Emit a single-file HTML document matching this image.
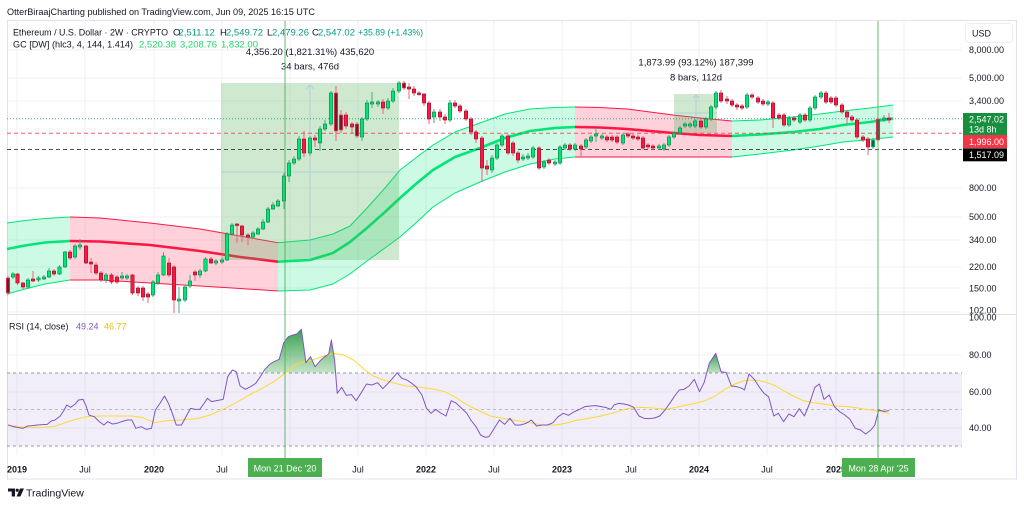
<!DOCTYPE html>
<html><head><meta charset="utf-8"><style>
html,body{margin:0;padding:0;background:#fff;}
svg{display:block;font-family:"Liberation Sans",Arial,sans-serif;}
.g{fill:#00e676;stroke:#1e7a4a;stroke-width:.6}
.r{fill:#ff1744;stroke:#8b1a2c;stroke-width:.6}
.d{fill:#6d1a2b;stroke:#ff4060;stroke-width:.7}
.dg{fill:#1b5e3a;stroke:#00e676;stroke-width:.7}
.pl{font-size:9px;fill:#131722}
.tl{font-size:9px;fill:#131722;text-anchor:middle}
.tb{font-size:9px;fill:#131722;text-anchor:middle;font-weight:bold}
</style></head><body>
<svg width="1024" height="506" viewBox="0 0 1024 506" xmlns="http://www.w3.org/2000/svg">
<defs>
<linearGradient id="ob" x1="0" y1="0" x2="0" y2="1"><stop offset="0" stop-color="#2e9a4a" stop-opacity=".95"/><stop offset="1" stop-color="#4caf50" stop-opacity=".02"/></linearGradient>
<clipPath id="cl70" clipPathUnits="userSpaceOnUse"><rect x="0" y="0" width="2000" height="188"/></clipPath>
</defs>
<rect width="1024" height="506" fill="#fff"/>
<!-- header -->
<text x="7" y="15.2" font-size="9.5" fill="#131722" textLength="308" lengthAdjust="spacingAndGlyphs">OtterBiraajCharting published on TradingView.com, Jun 09, 2025 16:15 UTC</text>
<!-- frame -->
<rect x="7.5" y="20.5" width="1009" height="458.5" fill="none" stroke="#e0e3eb"/>
<!-- grid -->
<g stroke="#f0f2f7" stroke-width="1">
<path d="M17 21V455M85 21V455M154 21V455M222 21V455M290 21V455M358 21V455M426 21V455M494 21V455M562 21V455M631 21V455M699 21V455M767 21V455M836 21V455M904 21V455"/>
<path d="M8 50H962M8 78H962M8 101H962M8 188H962M8 217H962M8 240H962M8 267H962M8 288H962M8 312H962M8 355H962M8 392H962M8 428H962"/>
</g>
<line x1="7" y1="314.5" x2="1017" y2="314.5" stroke="#e0e3eb"/>
<!-- Gaussian channel fills -->
<polygon fill="#00e676" fill-opacity=".2" points="7,223 25,220.5 45,218.5 70,217 70,280 45,284 25,289 7,294"/>
<polygon fill="#ff1744" fill-opacity=".2" points="70,217 100,218 150,223 200,229 240,236 278,242.7 278,291 240,288.5 200,286 150,283 100,280 70,280"/>
<polygon fill="#00e676" fill-opacity=".2" points="278,242.7 310,240 333,234 350,226 367,208 385,188 400,170 417,157 433,145 455,132 480,123 505,114 530,109 555,107.5 575,107 575,157 555,159 530,164 505,172 480,182 455,193 433,207 417,222 400,237 385,248 367,261 350,274 333,284 310,290 278,291"/>
<polygon fill="#ff1744" fill-opacity=".2" points="575,107 600,107.5 627,109 650,112 673,115 700,118 732,121 732,157 575,157"/>
<polygon fill="#00e676" fill-opacity=".2" points="732,121 760,120 793,117 820,114 843,111 870,108 893,105 893,137 870,139.5 843,142 820,146 793,150 760,154 732,157"/>
<!-- channel lines -->
<g fill="none" stroke-linejoin="round">
<polyline stroke="#00e676" stroke-width="1" points="7,223 25,220.5 45,218.5 70,217"/>
<polyline stroke="#00e676" stroke-width="1" points="7,294 25,289 45,284 70,280"/>
<polyline stroke="#00e676" stroke-width="2.6" points="7,249 25,245.5 45,242.5 70,241"/>
<polyline stroke="#ff1744" stroke-width="1" points="70,217 100,218 150,223 200,229 240,236 278,242.7"/>
<polyline stroke="#ff1744" stroke-width="1" points="70,280 100,280 150,283 200,286 240,288.5 278,291"/>
<polyline stroke="#ff1744" stroke-width="2.6" points="70,241 100,241.5 150,245 200,251 240,257 278,261.7"/>
<polyline stroke="#00e676" stroke-width="1" points="278,242.7 310,240 333,234 350,226 367,208 385,188 400,170 417,157 433,145 455,132 480,123 505,114 530,109 555,107.5 575,107"/>
<polyline stroke="#00e676" stroke-width="1" points="278,291 310,290 333,284 350,274 367,261 385,248 400,237 417,222 433,207 455,193 480,182 505,172 530,164 555,159 575,157"/>
<polyline stroke="#00e676" stroke-width="2.6" points="278,261.7 310,260 333,253 350,242 367,228 385,212 400,198 417,183 433,170 455,157 480,148 505,138 530,131 555,128 575,127"/>
<polyline stroke="#ff1744" stroke-width="1" points="575,107 600,107.5 627,109 650,112 673,115 700,118 732,121"/>
<polyline stroke="#ff1744" stroke-width="1" points="575,157 732,157"/>
<polyline stroke="#ff1744" stroke-width="2.6" points="575,127 600,127.5 627,129 650,131 673,133 700,135 732,136"/>
<polyline stroke="#00e676" stroke-width="1" points="732,121 760,120 793,117 820,114 843,111 870,108 893,105"/>
<polyline stroke="#00e676" stroke-width="1" points="732,157 760,154 793,150 820,146 843,142 870,139.5 893,137"/>
<polyline stroke="#00e676" stroke-width="2.6" points="732,136 760,134.5 793,132 820,129 843,125 870,122 893,118.5"/>
</g>
<!-- measurement boxes -->
<rect x="221" y="83" width="178" height="177" fill="#4caf50" fill-opacity=".27"/>
<rect x="674" y="94" width="43" height="39" fill="#4caf50" fill-opacity=".27"/>
<g stroke="#90b4e8" stroke-opacity=".5" fill="none" stroke-width="1">
<path d="M310 85V260M221 172H399M306 89L310 85L314 89"/>
<path d="M696 95V133M674 113H717M693 98L696 95L699 98"/>
</g>
<text x="310" y="54.8" font-size="9.5" fill="#131722" text-anchor="middle">4,356.20 (1,821.31%) 435,620</text>
<text x="310" y="69.3" font-size="9.5" fill="#131722" text-anchor="middle">34 bars, 476d</text>
<text x="696" y="65.3" font-size="9.5" fill="#131722" text-anchor="middle">1,873.99 (93.12%) 187,399</text>
<text x="696" y="80.3" font-size="9.5" fill="#131722" text-anchor="middle">8 bars, 112d</text>
<!-- price lines -->
<line x1="7" y1="118.8" x2="962" y2="118.8" stroke="#089981" stroke-width="1" stroke-dasharray="1 2" opacity=".8"/>
<line x1="7" y1="133.3" x2="962" y2="133.3" stroke="#f23645" stroke-width="1" stroke-dasharray="4 3" opacity=".8"/>
<line x1="7" y1="149.5" x2="962" y2="149.5" stroke="#333" stroke-width="1" stroke-dasharray="4 3" opacity=".85"/>
<!-- wicks -->
<path fill="none" stroke="#3fae86" stroke-width="1" d="M13 272V279M28 278V289M38.5 276V282M44 275V280M49 268V278M59.5 265V275M65 251V268M75 244V259M80 239V250M106 273V283M122 272V280M127 274V280M153 280V297M158 272V285M163.5 252V276M179 287V313M185 285V302M190 275V288M200 269V278M205.5 257V272M216 259V265M222 258V264M227 232V261M232 223V236M253 231V239M258 227V235M263 219V230M268 207V223M273 202V210M278 199V207M284 173V209M289 160V182M294 156V165M299 136V161M310 136V156M320 126V151M325 120V131M331 91V126M362 117V141M367 100V121M372 92V108M378 100V107M388 98V110M393 88V103M399 81V93M434 109V123M450 100V122M492 155V173M497 143V160M502 134V147M523 154V161M528 153V160M533 146V159M544 160V169M555 160V166M560 145V165M565 143V150M575 143V151M586 138V149M591 135V143M596 129V142M602 134V140M623 133V145M659 144V150M664 143V151M669 135V147M674 131V139M680 126V135M685 122V128M690 122V128M695 119V128M706 117V129M711 105V121M716 91V109M747 93V109M768 100V106M789 116V127M800 113V124M810 106V122M815 95V110M821 91V99M873 138V149M884 115V122"/>
<path fill="none" stroke="#f2607a" stroke-width="1" d="M8 276V295M17.5 273V285M23 282V289M33 271V282M54 269V276M70 250V260M86 245V264M91 258V273M96 262V275M101 271V282M111.5 273V284M117 275V284M132.5 274V295M138 286V296M143 286V301M148 292V303M169 258V277M174 265V313M195 270V281M211 257V264M237 223V243M242 225V242M248 233V245M304 131V157M315 135V147M336 86V141M341 110V133M346 112V129M352 122V134M357 122V138M383 99V114M404 81V90M409 83V99M414 86V96M419 91V96M424 93V106M429 101V124M440 109V121M445 114V124M455 100V108M460 104V113M466 109V121M471 117V135M476 130V143M482 136V182M487 160V175M508 134V155M513 141V156M518 151V163M539 146V170M549 158V165M570 143V151M581 144V157M607 135V142M612 135V142M617 135V144M628 132V138M633 134V140M638 135V141M643 136V150M648 143V149M653 144V150M701 119V129M721 90V103M727 96V104M732 99V107M737 103V110M742 104V110M752 93V99M758 96V104M763 99V106M773 101V128M779 113V120M784 113V127M794 116V122M805 113V122M826 91V104M831 96V104M836 96V107M842 103V114M847 110V124M852 115V122M857 118V139M863 135V142M868 137V155M878 117V142M889 113V123"/>
<!-- green bodies -->
<g class="g">
<rect x="11.3" y="274" width="3.4" height="3"/><rect x="26.3" y="280" width="3.4" height="7"/><rect x="36.8" y="278" width="3.4" height="2"/><rect x="42.3" y="277" width="3.4" height="2"/><rect x="47.3" y="271" width="3.4" height="6"/><rect x="57.8" y="267" width="3.4" height="7"/><rect x="63.3" y="252" width="3.4" height="15"/><rect x="73.3" y="246" width="3.4" height="11"/><rect x="78.3" y="245" width="3.4" height="2"/><rect x="104.3" y="275" width="3.4" height="5"/><rect x="120.3" y="276" width="3.4" height="2"/><rect x="125.3" y="276" width="3.4" height="2"/><rect x="151.3" y="282" width="3.4" height="13"/><rect x="156.3" y="275" width="3.4" height="8"/><rect x="161.8" y="256" width="3.4" height="19"/><rect x="177.3" y="299" width="3.4" height="2"/><rect x="183.3" y="287" width="3.4" height="13"/><rect x="188.3" y="281" width="3.4" height="5"/><rect x="198.3" y="271" width="3.4" height="4"/><rect x="203.8" y="259" width="3.4" height="12"/><rect x="214.3" y="261" width="3.4" height="2"/><rect x="220.3" y="260" width="3.4" height="2"/><rect x="225.3" y="234" width="3.4" height="26"/><rect x="230.3" y="225" width="3.4" height="9"/><rect x="251.3" y="233" width="3.4" height="4"/><rect x="256.3" y="229" width="3.4" height="5"/><rect x="261.3" y="222" width="3.4" height="7"/><rect x="266.3" y="209" width="3.4" height="13"/><rect x="271.3" y="205" width="3.4" height="4"/><rect x="276.3" y="201" width="3.4" height="5"/><rect x="282.3" y="176" width="3.4" height="25"/><rect x="287.3" y="163" width="3.4" height="13"/><rect x="292.3" y="159" width="3.4" height="4"/><rect x="297.3" y="139" width="3.4" height="20"/><rect x="308.3" y="138" width="3.4" height="15"/><rect x="318.3" y="129" width="3.4" height="14"/><rect x="323.3" y="124" width="3.4" height="5"/><rect x="329.3" y="93" width="3.4" height="31"/><rect x="360.3" y="119" width="3.4" height="18"/><rect x="365.3" y="103" width="3.4" height="16"/><rect x="370.3" y="102" width="3.4" height="2"/><rect x="376.3" y="102" width="3.4" height="2"/><rect x="386.3" y="101" width="3.4" height="7"/><rect x="391.3" y="91" width="3.4" height="10"/><rect x="397.3" y="83" width="3.4" height="8"/><rect x="432.3" y="112" width="3.4" height="5"/><rect x="448.3" y="103" width="3.4" height="17"/><rect x="490.3" y="158" width="3.4" height="12"/><rect x="495.3" y="145" width="3.4" height="13"/><rect x="500.3" y="136" width="3.4" height="9"/><rect x="521.3" y="157" width="3.4" height="2"/><rect x="526.3" y="156" width="3.4" height="2"/><rect x="531.3" y="148" width="3.4" height="9"/><rect x="542.3" y="162" width="3.4" height="5"/><rect x="553.3" y="162" width="3.4" height="2"/><rect x="558.3" y="147" width="3.4" height="16"/><rect x="563.3" y="145" width="3.4" height="3"/><rect x="573.3" y="145" width="3.4" height="4"/><rect x="584.3" y="140" width="3.4" height="7"/><rect x="589.3" y="137" width="3.4" height="4"/><rect x="594.3" y="134" width="3.4" height="2"/><rect x="600.3" y="136" width="3.4" height="2"/><rect x="621.3" y="135" width="3.4" height="8"/><rect x="657.3" y="146" width="3.4" height="2"/><rect x="662.3" y="145" width="3.4" height="4"/><rect x="667.3" y="137" width="3.4" height="8"/><rect x="672.3" y="133" width="3.4" height="4"/><rect x="678.3" y="128" width="3.4" height="5"/><rect x="683.3" y="124" width="3.4" height="2"/><rect x="688.3" y="124" width="3.4" height="2"/><rect x="693.3" y="121" width="3.4" height="5"/><rect x="704.3" y="119" width="3.4" height="8"/><rect x="709.3" y="107" width="3.4" height="12"/><rect x="714.3" y="93" width="3.4" height="14"/><rect x="745.3" y="95" width="3.4" height="12"/><rect x="766.3" y="102" width="3.4" height="2"/><rect x="787.3" y="118" width="3.4" height="7"/><rect x="798.3" y="115" width="3.4" height="7"/><rect x="808.3" y="108" width="3.4" height="12"/><rect x="813.3" y="97" width="3.4" height="11"/><rect x="819.3" y="93" width="3.4" height="4"/><rect x="882.3" y="118" width="3.4" height="2"/>
</g>
<rect class="dg" x="871.3" y="140" width="3.4" height="7"/>
<!-- red bodies -->
<g class="r">
<rect x="15.8" y="274" width="3.4" height="9"/><rect x="21.3" y="283" width="3.4" height="4"/><rect x="31.3" y="279" width="3.4" height="2"/><rect x="52.3" y="271" width="3.4" height="3"/><rect x="68.3" y="252" width="3.4" height="6"/><rect x="84.3" y="246" width="3.4" height="17"/><rect x="89.3" y="262" width="3.4" height="2"/><rect x="94.3" y="265" width="3.4" height="8"/><rect x="99.3" y="273" width="3.4" height="7"/><rect x="109.8" y="275" width="3.4" height="7"/><rect x="115.3" y="277" width="3.4" height="5"/><rect x="130.8" y="275" width="3.4" height="18"/><rect x="136.3" y="288" width="3.4" height="5"/><rect x="141.3" y="288" width="3.4" height="9"/><rect x="146.3" y="294" width="3.4" height="3"/><rect x="167.3" y="263" width="3.4" height="12"/><rect x="172.3" y="267" width="3.4" height="33"/><rect x="193.3" y="272" width="3.4" height="3"/><rect x="209.3" y="259" width="3.4" height="4"/><rect x="235.3" y="224" width="3.4" height="1.5"/><rect x="240.3" y="226" width="3.4" height="9"/><rect x="246.3" y="235" width="3.4" height="2"/><rect x="302.3" y="139" width="3.4" height="14"/><rect x="313.3" y="138" width="3.4" height="2"/><rect x="344.3" y="115" width="3.4" height="11"/><rect x="350.3" y="124" width="3.4" height="3"/><rect x="381.3" y="102" width="3.4" height="6"/><rect x="407.3" y="87" width="3.4" height="2"/><rect x="412.3" y="89" width="3.4" height="4"/><rect x="417.3" y="93" width="3.4" height="1.5"/><rect x="422.3" y="94" width="3.4" height="9"/><rect x="427.3" y="103" width="3.4" height="16"/><rect x="438.3" y="112" width="3.4" height="5"/><rect x="443.3" y="117" width="3.4" height="3"/><rect x="453.3" y="103" width="3.4" height="3"/><rect x="458.3" y="106" width="3.4" height="5"/><rect x="464.3" y="111" width="3.4" height="8"/><rect x="469.3" y="119" width="3.4" height="13"/><rect x="474.3" y="132" width="3.4" height="7"/><rect x="480.3" y="138" width="3.4" height="30"/><rect x="485.3" y="166" width="3.4" height="3"/><rect x="506.3" y="136" width="3.4" height="17"/><rect x="511.3" y="143" width="3.4" height="10"/><rect x="516.3" y="153" width="3.4" height="7"/><rect x="537.3" y="148" width="3.4" height="20"/><rect x="547.3" y="160" width="3.4" height="3"/><rect x="568.3" y="145" width="3.4" height="4"/><rect x="579.3" y="146" width="3.4" height="3"/><rect x="605.3" y="137" width="3.4" height="3"/><rect x="610.3" y="137" width="3.4" height="3"/><rect x="615.3" y="137" width="3.4" height="5"/><rect x="626.3" y="134" width="3.4" height="2"/><rect x="631.3" y="136" width="3.4" height="2"/><rect x="636.3" y="137" width="3.4" height="2"/><rect x="641.3" y="138" width="3.4" height="10"/><rect x="646.3" y="145" width="3.4" height="2"/><rect x="651.3" y="146" width="3.4" height="2"/><rect x="699.3" y="121" width="3.4" height="6"/><rect x="719.3" y="93" width="3.4" height="8"/><rect x="725.3" y="99" width="3.4" height="2"/><rect x="730.3" y="101" width="3.4" height="4"/><rect x="735.3" y="105" width="3.4" height="2"/><rect x="740.3" y="106" width="3.4" height="2"/><rect x="750.3" y="95" width="3.4" height="2"/><rect x="756.3" y="98" width="3.4" height="4"/><rect x="761.3" y="101" width="3.4" height="3"/><rect x="771.3" y="103" width="3.4" height="15"/><rect x="777.3" y="115" width="3.4" height="3"/><rect x="782.3" y="115" width="3.4" height="10"/><rect x="792.3" y="118" width="3.4" height="2"/><rect x="803.3" y="115" width="3.4" height="5"/><rect x="824.3" y="93" width="3.4" height="9"/><rect x="829.3" y="98" width="3.4" height="4"/><rect x="834.3" y="98" width="3.4" height="7"/><rect x="840.3" y="105" width="3.4" height="7"/><rect x="845.3" y="112" width="3.4" height="5"/><rect x="850.3" y="117" width="3.4" height="3"/><rect x="855.3" y="120" width="3.4" height="17"/><rect x="861.3" y="137" width="3.4" height="3"/><rect x="866.3" y="139" width="3.4" height="8"/><rect x="887.3" y="118" width="3.4" height="2"/>
</g>
<g class="d">
<rect x="6.3" y="278" width="3.4" height="15"/><rect x="334.3" y="93" width="3.4" height="38"/><rect x="339.3" y="115" width="3.4" height="15"/><rect x="355.3" y="124" width="3.4" height="12"/><rect x="402.3" y="83" width="3.4" height="5"/><rect x="876.3" y="119" width="3.4" height="21"/>
</g>
<!-- header lines 2,3 -->
<g font-size="9.5">
<text x="13" y="35.3" fill="#131722" textLength="155" lengthAdjust="spacingAndGlyphs">Ethereum / U.S. Dollar · 2W · CRYPTO</text>
<text y="35.3" fill="#131722"><tspan x="173">O</tspan><tspan x="220">H</tspan><tspan x="267">L</tspan><tspan x="312">C</tspan></text>
<text y="35.3" fill="#089981"><tspan x="178.5">2,511.12</tspan><tspan x="226">2,549.72</tspan><tspan x="272">2,479.26</tspan><tspan x="318">2,547.02</tspan></text>
<text x="358" y="35.3" fill="#089981" textLength="65" lengthAdjust="spacingAndGlyphs">+35.89 (+1.43%)</text>
<text x="13" y="47.3" fill="#131722" textLength="120" lengthAdjust="spacingAndGlyphs">GC [DW] (hlc3, 4, 144, 1.414)</text>
<text y="47.3" fill="#22d36b"><tspan x="139">2,520.38</tspan><tspan x="180">3,208.76</tspan><tspan x="221">1,832.00</tspan></text>
</g>
<!-- RSI pane -->
<rect x="7" y="373" width="955" height="73" fill="#7e57c2" fill-opacity=".1"/>
<g stroke="#9598a1" stroke-width="1" stroke-dasharray="3 3">
<line x1="7" y1="373" x2="962" y2="373"/>
<line x1="7" y1="409.5" x2="962" y2="409.5" stroke-opacity=".6"/>
<line x1="7" y1="446" x2="962" y2="446"/>
</g>
<g transform="translate(1.6,310) scale(0.65164,0.33333)">
<polygon clip-path="url(#cl70)" fill="url(#ob)" points="404,188 404,178 412,162 418,155 426,148 433,98 440,80 447,75 453,72 460,58 467,158 474,140 481,170 489,152 496,140 502,132 506,90 511,150 515,250 515,188"/>
<polygon clip-path="url(#cl70)" fill="url(#ob)" points="1078,188 1078,218 1086,160 1096,130 1104,185 1112,188"/>
<polyline fill="none" stroke="#fdd835" stroke-width="1" vector-effect="non-scaling-stroke" points="10,345 25,350 40,353 60,352 80,350 95,340 110,330 130,320 150,318 170,318 200,318 215,322 235,338 255,332 275,330 300,326 320,315 340,298 360,278 380,255 400,235 420,212 435,190 450,165 465,155 480,148 495,138 510,130 525,135 540,150 555,175 570,198 585,210 600,218 620,228 645,232 665,238 680,245 695,260 710,280 730,300 750,318 770,325 800,335 830,345 850,345 865,340 880,332 900,325 920,318 940,308 960,296 980,292 1000,294 1020,298 1040,290 1060,282 1080,272 1095,258 1110,238 1125,222 1140,212 1155,210 1170,215 1185,225 1200,242 1215,258 1230,272 1245,278 1260,282 1280,288 1300,290 1320,296 1340,302 1355,306 1362,312"/>
<polyline fill="none" stroke="#7e57c2" stroke-width="1" vector-effect="non-scaling-stroke" stroke-linejoin="round" points="10,345 18,350 26,353 33,355 40,348 48,347 55,345 63,344 70,343 76,333 82,330 90,318 96,300 100,285 106,292 113,282 118,270 125,268 130,290 134,315 142,320 150,335 157,345 163,335 170,342 177,340 184,335 193,330 200,330 206,355 214,350 222,358 230,355 236,300 243,280 250,258 256,280 262,310 268,345 276,345 283,320 290,295 297,298 304,298 310,282 316,265 322,275 330,272 340,268 347,200 354,180 360,185 366,228 374,238 382,230 390,220 397,200 404,178 412,162 418,155 426,148 433,98 440,80 447,75 453,72 460,58 467,158 474,140 481,170 489,152 496,140 502,132 506,90 511,150 515,250 522,232 529,256 537,254 544,272 552,248 560,222 568,225 577,218 585,236 594,218 600,205 607,188 614,205 622,210 628,218 636,230 645,255 652,295 659,310 666,298 673,308 682,318 690,272 698,280 706,295 714,310 720,330 728,350 735,375 742,382 748,380 756,355 764,330 772,343 780,325 788,345 796,345 805,340 813,330 821,348 829,345 838,345 846,338 854,320 862,310 870,316 878,306 887,298 895,290 904,288 912,287 920,290 928,293 935,298 940,285 947,280 955,282 962,285 970,292 978,318 986,325 994,326 1002,324 1010,318 1018,300 1026,278 1034,255 1040,240 1047,238 1055,228 1063,208 1071,245 1078,218 1086,160 1096,130 1104,185 1112,188 1120,228 1128,230 1136,235 1140,240 1147,192 1155,208 1163,232 1170,250 1177,260 1185,318 1192,310 1200,335 1208,312 1216,320 1224,296 1232,318 1240,280 1248,232 1255,222 1262,268 1270,255 1278,290 1286,305 1294,315 1302,328 1310,355 1318,360 1326,372 1334,360 1340,345 1346,300 1354,304 1362,302"/>
</g>
<text y="329.3" font-size="9"><tspan x="9" fill="#131722">RSI (14, close)</tspan><tspan x="76" fill="#7e57c2">49.24</tspan><tspan x="104" fill="#f2c200">46.77</tspan></text>
<!-- vertical marker lines -->
<line x1="285" y1="21" x2="285" y2="458" stroke="#4caf50" stroke-width="1" opacity=".85"/>
<line x1="878" y1="21" x2="878" y2="458" stroke="#4caf50" stroke-width="1" opacity=".85"/>
<!-- price axis -->
<rect x="965.5" y="23.5" width="47" height="19" rx="3" fill="#fff" stroke="#eceef2"/>
<text x="972" y="36.5" class="pl">USD</text>
<g class="pl">
<text x="969" y="53.2">8,000.00</text>
<text x="969" y="81.2">5,000.00</text>
<text x="969" y="104.2">3,400.00</text>
<text x="969" y="191.2">800.00</text>
<text x="969" y="219.9">500.00</text>
<text x="969" y="243.2">340.00</text>
<text x="969" y="269.9">220.00</text>
<text x="969" y="291.5">150.00</text>
<text x="969" y="313.5">102.00</text>
<text x="969" y="320.5">100.00</text>
<text x="969" y="358.2">80.00</text>
<text x="969" y="394.9">60.00</text>
<text x="969" y="431.2">40.00</text>
</g>
<rect x="963" y="113" width="44" height="22" fill="#178f3e"/>
<text x="969" y="122.5" font-size="9" fill="#fff">2,547.02</text>
<text x="969" y="132.3" font-size="9" fill="#fff">13d 8h</text>
<rect x="963" y="135" width="44" height="13" fill="#f23645"/>
<text x="969" y="144.8" font-size="9" fill="#fff">1,996.00</text>
<rect x="963" y="148.3" width="44" height="13" fill="#000"/>
<text x="969" y="158" font-size="9" fill="#fff">1,517.09</text>
<!-- time axis -->
<text x="17" y="472.3" class="tb">2019</text>
<text x="85" y="472.3" class="tl">Jul</text>
<text x="154" y="472.3" class="tb">2020</text>
<text x="222" y="472.3" class="tl">Jul</text>
<text x="358" y="472.3" class="tl">Jul</text>
<text x="426" y="472.3" class="tb">2022</text>
<text x="494" y="472.3" class="tl">Jul</text>
<text x="562" y="472.3" class="tb">2023</text>
<text x="631" y="472.3" class="tl">Jul</text>
<text x="699" y="472.3" class="tb">2024</text>
<text x="767" y="472.3" class="tl">Jul</text>
<text x="836" y="472.3" class="tb">2025</text>
<rect x="248" y="458" width="74" height="19" fill="#4caf50"/>
<text x="285" y="471.3" font-size="9" fill="#fff" text-anchor="middle">Mon 21 Dec '20</text>
<rect x="842" y="458" width="73" height="19" fill="#4caf50"/>
<text x="878.5" y="471.3" font-size="9" fill="#fff" text-anchor="middle">Mon 28 Apr '25</text>
<!-- logo -->
<path d="M8 488.5h7v8h-3.3v-5H8z" fill="#131722"/>
<circle cx="17.2" cy="490.2" r="1.6" fill="#131722"/>
<path d="M20 488.5h4l-3.6 8h-3.8z" fill="#131722"/>
<text x="26" y="496.5" font-size="10.5" fill="#131722">TradingView</text>
</svg>
</body></html>
